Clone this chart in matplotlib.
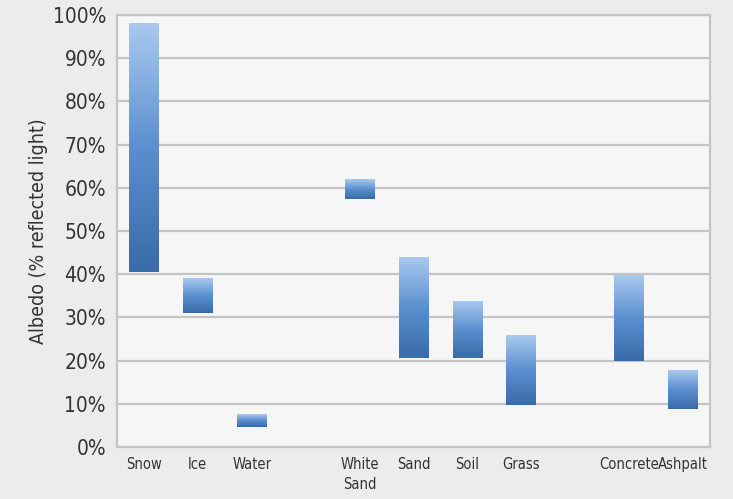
import numpy as np
import matplotlib.pyplot as plt
from matplotlib.colors import LinearSegmentedColormap

# albedo ranges (% reflected light), "" = empty slot between groups
categories = ["Snow", "Ice", "Water", "", "White\nSand", "Sand", "Soil", "Grass", "", "Concrete", "Ashpalt"]
low = [40.5, 31, 4.6, None, 57.4, 20.7, 20.7, 9.8, None, 20, 8.8]
high = [97.9, 38.9, 7.6, None, 61.8, 44, 33.8, 25.9, None, 39.8, 17.8]
yticks = [0, 10, 20, 30, 40, 50, 60, 70, 80, 90, 100]

plt.rcParams["font.family"] = ["DejaVu Sans"]
plt.rcParams["font.stretch"] = "condensed"

fig = plt.figure(figsize=(7.33, 4.99), dpi=100)
fig.patch.set_facecolor("#ececec")
ax = fig.add_axes([0.1596, 0.1042, 0.809, 0.866])
ax.set_facecolor("#f6f6f6")

# gradient: light blue on top, dark blue at bottom
cmap = LinearSegmentedColormap.from_list("bar", ["#3a6ba8", "#5b8fd0", "#a9c9ee"])
grad = np.linspace(0, 1, 256).reshape(-1, 1)
width = 0.55

for i, (lo, hi) in enumerate(zip(low, high)):
    if lo is None:
        continue
    ax.imshow(grad, cmap=cmap, origin="lower", aspect="auto",
              extent=(i - width / 2, i + width / 2, lo, hi), zorder=3)

ax.set_xlim(-0.5, len(categories) - 0.5)
ax.set_ylim(0, 100)
ax.set_xticks(range(len(categories)))
ax.set_xticklabels(categories, fontsize=10.5, color="#333333", linespacing=1.4)
ax.set_yticks(yticks)
ax.set_yticklabels([f"{v}%" for v in yticks], fontsize=15, color="#333333")
ax.tick_params(length=0, pad=8)
ax.tick_params(axis="x", pad=7)

ax.grid(axis="y", color="#c4c4c4", linewidth=1.6, zorder=1)
ax.set_axisbelow(True)
for side in ["left", "right", "bottom", "top"]:
    ax.spines[side].set_color("#c4c4c4")
    ax.spines[side].set_linewidth(1.6)

ax.set_ylabel("Albedo (% reflected light)", fontsize=14, color="#333333", labelpad=3)

plt.savefig("out.png", dpi=100, facecolor=fig.get_facecolor())
plt.close(fig)
